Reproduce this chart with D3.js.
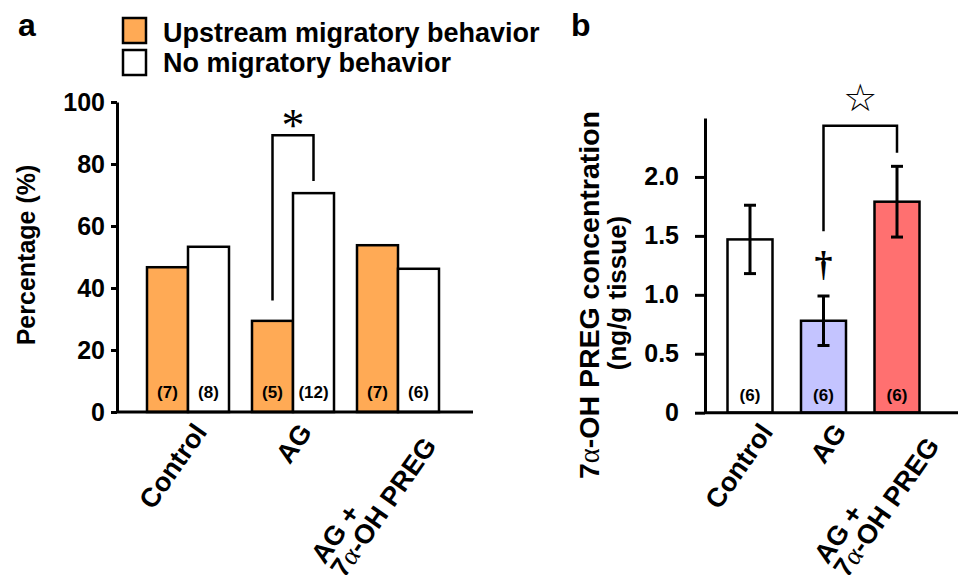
<!DOCTYPE html>
<html>
<head>
<meta charset="utf-8">
<script src="https://cdn.jsdelivr.net/npm/d3@7"></script>
<style>
  body { margin: 0; background: #fff; }
  svg text { font-family: "Liberation Sans", Arial, sans-serif; font-weight: bold; fill: #000; }
</style>
</head>
<body>
<svg id="chart" width="962" height="575"></svg>
<script>
// ---- data, panel a ----
const groupsA = ['Control', 'AG', 'AG + 7α-OH PREG'];
const upstream = [46.7, 29.4, 53.8];       // % upstream migratory behavior
const noMigration = [53.3, 70.6, 46.2];    // % no migratory behavior
const nUpstream = ['(7)', '(5)', '(7)'];
const nNone = ['(8)', '(12)', '(6)'];
const ticksA = [0, 20, 40, 60, 80, 100];
const bracketA = [36, 89.3, 74.5];         // left leg bottom, top, right leg bottom (%)

// ---- data, panel b ----
const groupsB = ['Control', 'AG', 'AG + 7α-OH PREG'];
const conc = [1.47, 0.78, 1.79];           // ng/g tissue
const concErr = [0.29, 0.21, 0.30];
const nB = ['(6)', '(6)', '(6)'];
const ticksB = [0, 0.5, 1.0, 1.5, 2.0];
const tickLabelsB = ['0', '0.5', '1.0', '1.5', '2.0'];
const bracketB = [1.54, 2.435, 2.205];
const daggerB = 1.25;

const labelLines = [['Control'], ['AG'], ['AG +', '7α-OH PREG']];
const legendItems = ['Upstream migratory behavior', 'No migratory behavior'];

const orange = '#ffaa55';
const colorsB = ['#ffffff', '#c4c4ff', '#ff7070'];

const svg = d3.select('#chart');

// put alpha in a serif face like the original Symbol glyph
function richText(sel, str) {
  str.split(/(α)/).forEach(part => {
    if (!part) return;
    const t = sel.append('tspan').text(part);
    if (part === 'α') t.style('font-family', '"Liberation Serif", serif').style('font-weight', 'normal');
  });
}

function styleAxis(g, fontSize) {
  g.selectAll('path, line').attr('stroke', '#000').attr('stroke-width', 3);
  g.selectAll('text').attr('font-size', fontSize).style('font-family', '"Liberation Sans", Arial, sans-serif').style('font-weight', 'bold');
  g.attr('font-family', null).attr('font-size', null);
}

function xLabels(x, groups, dx, y0) {
  groups.forEach((grp, i) => {
    const lg = svg.append('g')
      .attr('transform', `translate(${x(grp) + dx},${y0}) rotate(-55)`);
    const texts = labelLines[i].map((line, j) => {
      const t = lg.append('text').attr('y', j * 24).attr('font-size', 27);
      richText(t, line);
      return t;
    });
    const maxW = d3.max(texts, t => t.node().getComputedTextLength());
    texts.forEach(t => t.attr('x', -maxW));
  });
}

// ================= panel a =================
const axA = 117, baseA = 412, endA = 473;
const yA = d3.scaleLinear().domain([0, 100]).range([baseA, 102]);
const xA = d3.scalePoint().domain(groupsA).range([188, 398]);
const bwA = 41;

svg.append('text').attr('x', 18).attr('y', 36).attr('font-size', 32).text('a');

// legend
legendItems.forEach((lab, i) => {
  svg.append('rect')
    .attr('x', 123).attr('y', 18 + i * 32).attr('width', 23).attr('height', 25)
    .attr('fill', i === 0 ? orange : '#fff').attr('stroke', '#000').attr('stroke-width', 2.5);
  svg.append('text').attr('x', 163).attr('y', 42 + i * 30).attr('font-size', 27).text(lab);
});

const barsA = svg.append('g');
barsA.selectAll('rect.up')
  .data(groupsA)
  .join('rect')
  .attr('class', 'up')
  .attr('x', d => xA(d) - bwA)
  .attr('y', (d, i) => yA(upstream[i]))
  .attr('width', bwA)
  .attr('height', (d, i) => baseA - yA(upstream[i]))
  .attr('fill', orange).attr('stroke', '#000').attr('stroke-width', 2.5);

barsA.selectAll('rect.no')
  .data(groupsA)
  .join('rect')
  .attr('class', 'no')
  .attr('x', d => xA(d))
  .attr('y', (d, i) => yA(noMigration[i]))
  .attr('width', bwA)
  .attr('height', (d, i) => baseA - yA(noMigration[i]))
  .attr('fill', '#fff').attr('stroke', '#000').attr('stroke-width', 2.5);

barsA.selectAll('text.nu')
  .data(groupsA)
  .join('text')
  .attr('class', 'nu')
  .attr('x', d => xA(d) - bwA / 2).attr('y', 398)
  .attr('text-anchor', 'middle').attr('font-size', 17)
  .text((d, i) => nUpstream[i]);

barsA.selectAll('text.nn')
  .data(groupsA)
  .join('text')
  .attr('class', 'nn')
  .attr('x', d => xA(d) + bwA / 2).attr('y', 398)
  .attr('text-anchor', 'middle').attr('font-size', 17)
  .text((d, i) => nNone[i]);

const gyA = svg.append('g')
  .attr('transform', `translate(${axA},0)`)
  .call(d3.axisLeft(yA).tickValues(ticksA).tickSize(6).tickPadding(6).tickSizeOuter(0));
styleAxis(gyA, 25);

svg.append('line')
  .attr('x1', axA).attr('x2', endA).attr('y1', baseA).attr('y2', baseA)
  .attr('stroke', '#000').attr('stroke-width', 3);

svg.append('text')
  .attr('transform', `translate(35,255) rotate(-90)`)
  .attr('text-anchor', 'middle').attr('font-size', 25)
  .text('Percentage (%)');

// significance bracket between AG bars
const bl = xA('AG') - bwA / 2, br = xA('AG') + bwA / 2;
svg.append('path')
  .attr('d', `M${bl},${yA(bracketA[0])}V${yA(bracketA[1])}H${br}V${yA(bracketA[2])}`)
  .attr('fill', 'none').attr('stroke', '#000').attr('stroke-width', 2.5);
svg.append('text')
  .attr('x', xA('AG')).attr('y', yA(bracketA[1]) + 6)
  .attr('text-anchor', 'middle').attr('font-size', 46)
  .style('font-family', '"Liberation Serif", serif').style('font-weight', 'normal')
  .text('*');

xLabels(xA, groupsA, 20, 432);

// ================= panel b =================
const axB = 705, baseB = 412.7, endB = 958;
const yB = d3.scaleLinear().domain([0, 2.5]).range([baseB, 118]);
const xB = d3.scalePoint().domain(groupsB).range([750, 897]);
const bwB = 45;

svg.append('text').attr('x', 571).attr('y', 36).attr('font-size', 32).text('b');

const barsB = svg.append('g');
barsB.selectAll('rect')
  .data(groupsB)
  .join('rect')
  .attr('x', d => xB(d) - bwB / 2)
  .attr('y', (d, i) => yB(conc[i]))
  .attr('width', bwB)
  .attr('height', (d, i) => baseB - yB(conc[i]))
  .attr('fill', (d, i) => colorsB[i]).attr('stroke', '#000').attr('stroke-width', 2.5);

// error bars
const err = barsB.selectAll('g.err')
  .data(groupsB)
  .join('g')
  .attr('class', 'err')
  .attr('stroke', '#000').attr('stroke-width', 3);
err.append('line')
  .attr('x1', d => xB(d)).attr('x2', d => xB(d))
  .attr('y1', (d, i) => yB(conc[i] - concErr[i]))
  .attr('y2', (d, i) => yB(conc[i] + concErr[i]));
err.append('line')
  .attr('x1', d => xB(d) - 6).attr('x2', d => xB(d) + 6)
  .attr('y1', (d, i) => yB(conc[i] + concErr[i]))
  .attr('y2', (d, i) => yB(conc[i] + concErr[i]));
err.append('line')
  .attr('x1', d => xB(d) - 6).attr('x2', d => xB(d) + 6)
  .attr('y1', (d, i) => yB(conc[i] - concErr[i]))
  .attr('y2', (d, i) => yB(conc[i] - concErr[i]));

barsB.selectAll('text')
  .data(groupsB)
  .join('text')
  .attr('x', d => xB(d)).attr('y', 401)
  .attr('text-anchor', 'middle').attr('font-size', 17)
  .text((d, i) => nB[i]);

const gyB = svg.append('g')
  .attr('transform', `translate(${axB},0)`)
  .call(d3.axisLeft(yB).tickValues(ticksB).tickFormat((d, i) => tickLabelsB[i])
    .tickSize(10).tickPadding(16).tickSizeOuter(0));
styleAxis(gyB, 25);

svg.append('line')
  .attr('x1', axB).attr('x2', endB).attr('y1', baseB).attr('y2', baseB)
  .attr('stroke', '#000').attr('stroke-width', 3);

const l1 = svg.append('text').attr('transform', 'translate(599,295) rotate(-90)')
  .attr('text-anchor', 'middle').attr('font-size', 28.5);
richText(l1, '7α-OH PREG concentration');
svg.append('text').attr('transform', 'translate(626,293) rotate(-90)')
  .attr('text-anchor', 'middle').attr('font-size', 26)
  .text('(ng/g tissue)');

// bracket AG vs AG + 7α-OH PREG
svg.append('path')
  .attr('d', `M${xB('AG')},${yB(bracketB[0])}V${yB(bracketB[1])}H${xB(groupsB[2])}V${yB(bracketB[2])}`)
  .attr('fill', 'none').attr('stroke', '#000').attr('stroke-width', 2.5);
svg.append('text')
  .attr('x', (xB('AG') + xB(groupsB[2])) / 2).attr('y', yB(bracketB[1]) - 15)
  .attr('text-anchor', 'middle').attr('font-size', 38)
  .style('font-family', '"DejaVu Sans", sans-serif').style('font-weight', 'bold')
  .text('☆');
svg.append('text')
  .attr('x', xB('AG')).attr('y', yB(daggerB) + 11)
  .attr('text-anchor', 'middle').attr('font-size', 36)
  .style('font-family', '"Liberation Serif", serif').style('font-weight', 'bold')
  .text('†');

xLabels(xB, groupsB, 24, 432);
</script>
</body>
</html>
